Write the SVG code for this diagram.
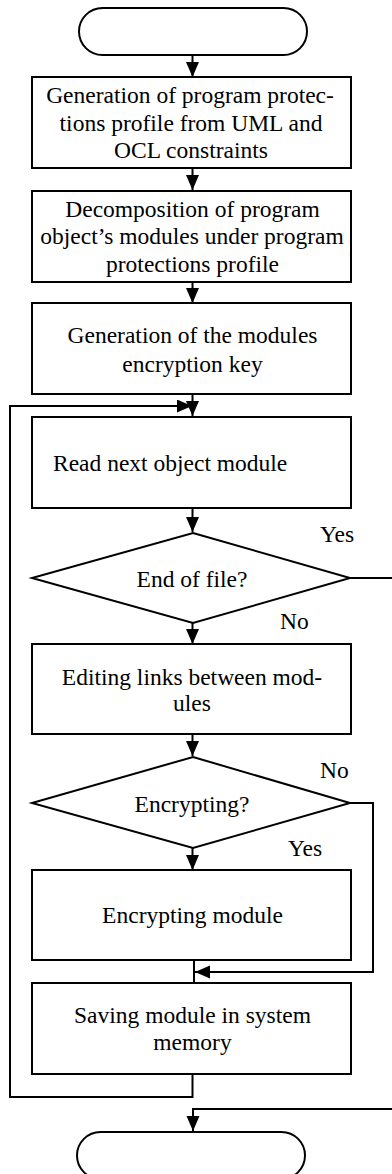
<svg xmlns="http://www.w3.org/2000/svg" width="392" height="1174" viewBox="0 0 392 1174">
<style>
.n{fill:#fff;stroke:#000;stroke-width:2}
.t{font-family:"Liberation Serif","Times New Roman",serif;font-size:23.5px;fill:#000;text-anchor:middle}
.l{font-family:"Liberation Serif","Times New Roman",serif;font-size:23.5px;fill:#000}
.c{fill:none;stroke:#000;stroke-width:2}
</style>
<defs>
<marker id="a" markerUnits="userSpaceOnUse" markerWidth="16" markerHeight="14" refX="15" refY="6.5" orient="auto">
<path d="M0,0 L15,6.5 L0,13 Z" fill="#000"/>
</marker>
</defs>
<rect width="392" height="1174" fill="#fff"/>
<g id="connectors">
<line class="c" x1="192.5" y1="55" x2="192.5" y2="77" marker-end="url(#a)"/>
<line class="c" x1="192.5" y1="168" x2="192.5" y2="190" marker-end="url(#a)"/>
<line class="c" x1="192.5" y1="282" x2="192.5" y2="303" marker-end="url(#a)"/>
<line class="c" x1="192.5" y1="394" x2="192.5" y2="416" marker-end="url(#a)"/>
<line class="c" x1="192.5" y1="508" x2="192.5" y2="532" marker-end="url(#a)"/>
<line class="c" x1="192.5" y1="623" x2="192.5" y2="644" marker-end="url(#a)"/>
<line class="c" x1="192.5" y1="734" x2="192.5" y2="756" marker-end="url(#a)"/>
<line class="c" x1="192.5" y1="848" x2="192.5" y2="870" marker-end="url(#a)"/>
<line class="c" x1="194" y1="960" x2="194" y2="983"/>
<polyline class="c" points="350,803 373,803 373,972 195,972" marker-end="url(#a)"/>
<polyline class="c" points="192.5,1074 192.5,1097 10,1097 10,406 192,406" marker-end="url(#a)"/>
<line class="c" x1="350" y1="578" x2="392" y2="578"/>
<polyline class="c" points="392,1109 193,1109 193,1131" marker-end="url(#a)"/>
</g>
<g id="start"><rect class="n" x="79" y="8" width="228" height="47" rx="23.5"/></g>
<g id="box1"><rect class="n" x="32" y="77" width="319" height="91"/>
<text class="t" x="190" y="103">Generation of program protec-</text>
<text class="t" x="191" y="131">tions profile from UML and</text>
<text class="t" x="191" y="158">OCL constraints</text></g>
<g id="box2"><rect class="n" x="32" y="191" width="319" height="91"/>
<text class="t" x="192.5" y="217">Decomposition of program</text>
<text class="t" x="192" y="244">object’s modules under program</text>
<text class="t" x="192.5" y="272">protections profile</text></g>
<g id="box3"><rect class="n" x="32" y="303" width="319" height="91"/>
<text class="t" x="192.5" y="343">Generation of the modules</text>
<text class="t" x="192.5" y="372">encryption key</text></g>
<g id="box4"><rect class="n" x="32" y="417" width="319" height="91"/>
<text class="l" x="53" y="471">Read next object module</text></g>
<g id="dec1"><polygon class="n" points="193,533 350,578 193,623 32,578"/>
<text class="t" x="192" y="586.5">End of file?</text>
<text class="l" x="320" y="541.5">Yes</text>
<text class="l" x="280" y="628.5">No</text></g>
<g id="box5"><rect class="n" x="32" y="644" width="319" height="90"/>
<text class="t" x="192" y="685">Editing links between mod-</text>
<text class="t" x="192" y="710.5">ules</text></g>
<g id="dec2"><polygon class="n" points="193,757 350,803 193,848 32,803"/>
<text class="t" x="192" y="811.5">Encrypting?</text>
<text class="l" x="320" y="778">No</text>
<text class="l" x="288" y="855.5">Yes</text></g>
<g id="box6"><rect class="n" x="32" y="870" width="319" height="90"/>
<text class="t" x="192.5" y="923">Encrypting module</text></g>
<g id="box7"><rect class="n" x="32" y="983" width="319" height="91"/>
<text class="t" x="192.5" y="1023">Saving module in system</text>
<text class="t" x="192.5" y="1050">memory</text></g>
<g id="end"><rect class="n" x="77" y="1132" width="228" height="47" rx="23.5"/></g>
</svg>
